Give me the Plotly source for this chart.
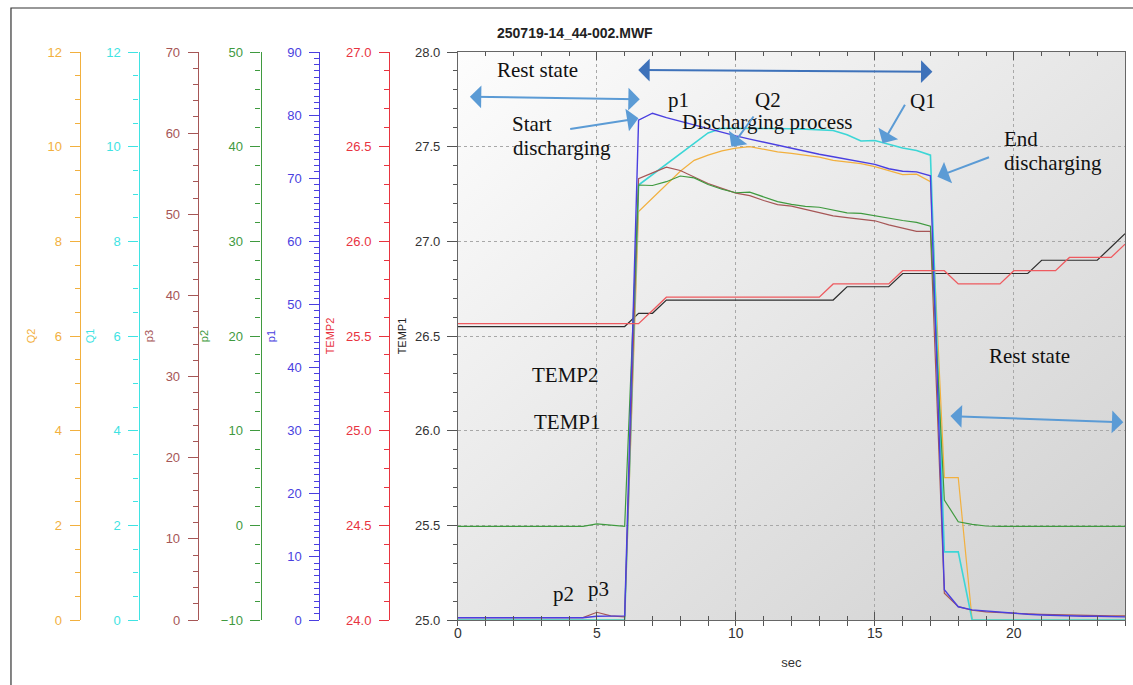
import base64
import plotly.graph_objects as go

# ---------------- data (sampled every 0.5 s) ----------------
time_s = [0.0, 0.5, 1.0, 1.5, 2.0, 2.5, 3.0, 3.5, 4.0, 4.5, 5.0, 5.5, 6.0, 6.5, 7.0, 7.5,
          8.0, 8.5, 9.0, 9.5, 10.0, 10.5, 11.0, 11.5, 12.0, 12.5, 13.0, 13.5, 14.0, 14.5,
          15.0, 15.5, 16.0, 16.5, 17.0, 17.5, 18.0, 18.5, 19.0, 19.5, 20.0, 20.5, 21.0,
          21.5, 22.0, 22.5, 23.0, 23.5, 24.0]

temp1 = [26.55, 26.55, 26.55, 26.55, 26.55, 26.55, 26.55, 26.55, 26.55, 26.55, 26.55, 26.55, 26.55,
         26.62, 26.62, 26.69,
         26.69, 26.69, 26.69, 26.69, 26.69, 26.69, 26.69, 26.69, 26.69, 26.69, 26.69, 26.69,
         26.76, 26.76, 26.76, 26.76,
         26.83, 26.83, 26.83, 26.83, 26.83, 26.83, 26.83, 26.83, 26.83, 26.83,
         26.90, 26.90, 26.90, 26.90, 26.90, 26.97, 27.04]

temp2 = [25.565, 25.565, 25.565, 25.565, 25.565, 25.565, 25.565, 25.565, 25.565, 25.565, 25.565,
         25.565, 25.565, 25.565, 25.635,
         25.705, 25.705, 25.705, 25.705, 25.705, 25.705, 25.705, 25.705, 25.705, 25.705, 25.705, 25.705,
         25.775, 25.775, 25.775, 25.775, 25.775,
         25.845, 25.845, 25.845, 25.845,
         25.775, 25.775, 25.775, 25.775,
         25.845, 25.845, 25.845, 25.845,
         25.915, 25.915, 25.915, 25.915, 25.985]

p1 = [0.35, 0.35, 0.35, 0.35, 0.35, 0.35, 0.35, 0.35, 0.35, 0.35, 0.6, 0.65, 0.65,
      79.2, 80.3, 79.6, 79.0, 78.4, 77.8, 77.2, 76.7, 76.2, 75.7, 75.2, 74.7, 74.2, 73.8,
      73.4, 73.0, 72.6, 72.2, 71.5, 71.1, 71.0, 70.4,
      4.8, 2.1, 1.6, 1.4, 1.2, 1.1, 0.9, 0.8, 0.7, 0.7, 0.6, 0.6, 0.5, 0.5]

p2 = [-0.1, -0.1, -0.1, -0.1, -0.1, -0.1, -0.1, -0.1, -0.1, -0.1, 0.15, 0.05, -0.1,
      35.95, 35.9, 36.3, 36.9, 36.7, 36.0, 35.5, 35.13, 35.2, 34.7, 34.19, 33.9, 33.7, 33.6,
      33.3, 33.0, 32.95, 32.7, 32.4, 32.2, 32.0, 31.6,
      2.68, 0.38, 0.1, -0.07, -0.1, -0.1, -0.1, -0.1, -0.1, -0.1, -0.1, -0.1, -0.1, -0.1]

p3 = [0.3, 0.3, 0.3, 0.3, 0.3, 0.3, 0.3, 0.3, 0.3, 0.3, 0.95, 0.5, 0.4,
      54.4, 55.1, 55.8, 55.4, 54.6, 53.8, 53.2, 52.6, 52.3, 51.7, 51.2, 51.0, 50.6, 50.2,
      49.8, 49.6, 49.4, 49.2, 48.7, 48.3, 47.9, 47.9,
      3.3, 1.64, 1.2, 1.0, 0.9, 0.8, 0.75, 0.7, 0.65, 0.6, 0.55, 0.5, 0.5, 0.5]

q1 = [0, 0, 0, 0, 0, 0, 0, 0, 0, 0, 0, 0, 0,
      9.19, 9.41, 9.63, 9.85, 10.07, 10.29, 10.39, 10.39, 10.39, 10.38, 10.38, 10.38, 10.37, 10.36,
      10.34, 10.25, 10.12, 10.13, 10.05, 9.97, 9.92, 9.82,
      1.44, 1.44, 0, 0, 0, 0, 0, 0, 0, 0, 0, 0, 0, 0]

q2 = [0, 0, 0, 0, 0, 0, 0, 0, 0, 0, 0, 0, 0,
      8.63, 8.92, 9.2, 9.48, 9.71, 9.82, 9.91, 9.97, 10.0, 9.94, 9.89, 9.86, 9.82, 9.78,
      9.71, 9.67, 9.64, 9.58, 9.5, 9.41, 9.42, 9.26,
      3.01, 3.01, 0, 0, 0, 0, 0, 0, 0, 0, 0, 0, 0, 0]

# axis names, ranges, ticks
axis_names = ["Q2", "Q1", "p3", "p2", "p1", "TEMP2"]
axis_ranges = [[0, 12], [0, 12], [0, 70], [-10, 50], [0, 90], [24.0, 27.0]]
axis_dticks = [2, 2, 10, 10, 10, 0.5]
axis_minor = [0.5, 0.5, 2, 2, 1, 0.1]
axis_formats = ["d", "d", "d", "d", "d", ".1f"]

# ---------------- styling ----------------
W, H = 1133, 685
C_Q2 = "#F2B03E"
C_Q1 = "#3FE3E3"
C_P3 = "#A65656"
C_P2 = "#3F9A3F"
C_P1 = "#4A3FE0"
C_T2 = "#E8343F"
C_T1 = "#2E2E2E"
axis_colors = [C_Q2, C_Q1, C_P3, C_P2, C_P1, C_T2]
axis_px = [76, 135, 194.5, 257.5, 316.5, 386.5]

X0_PX, X1_PX = 455.5, 1125
Y0_PX, Y1_PX = 52, 620
dom = [X0_PX / W, X1_PX / W]


def px2x(px):
    return (px - X0_PX) / (X1_PX - X0_PX) * 24


def py2y(py):
    return 28 - (py - Y0_PX) / (Y1_PX - Y0_PX) * 3


fig = go.Figure()

# traces
fig.add_trace(go.Scatter(x=time_s, y=temp1, name="TEMP1", mode="lines",
                         line=dict(color=C_T1, width=1.2), xaxis="x", yaxis="y"))
fig.add_trace(go.Scatter(x=time_s, y=temp2, name="TEMP2", mode="lines",
                         line=dict(color="#EE5A5F", width=1.3), xaxis="x", yaxis="y7"))
fig.add_trace(go.Scatter(x=time_s, y=p3, name="p3", mode="lines",
                         line=dict(color=C_P3, width=1.2), xaxis="x", yaxis="y4"))
fig.add_trace(go.Scatter(x=time_s, y=p2, name="p2", mode="lines",
                         line=dict(color=C_P2, width=1.2), xaxis="x", yaxis="y5"))
fig.add_trace(go.Scatter(x=time_s, y=q2, name="Q2", mode="lines",
                         line=dict(color=C_Q2, width=1.2), xaxis="x", yaxis="y2"))
fig.add_trace(go.Scatter(x=time_s, y=p1, name="p1", mode="lines",
                         line=dict(color=C_P1, width=1.4), xaxis="x", yaxis="y6"))
fig.add_trace(go.Scatter(x=time_s, y=q1, name="Q1", mode="lines",
                         line=dict(color="#3CD6D6", width=1.6), xaxis="x", yaxis="y3"))
# carrier for the bottom outside tick axis
fig.add_trace(go.Scatter(x=[0, 24], y=[25, 25], mode="lines", line=dict(width=0),
                         opacity=0, hoverinfo="skip", showlegend=False, xaxis="x2", yaxis="y"))

tickfont_base = dict(family="Liberation Sans, Arial, sans-serif", size=13)

layout = dict(
    width=W, height=H,
    margin=dict(l=0, r=0, t=Y0_PX, b=H - Y1_PX),
    paper_bgcolor="white",
    plot_bgcolor="rgba(0,0,0,0)",
    showlegend=False,
    font=dict(family="Liberation Sans, Arial, sans-serif", color="#333"),
    xaxis=dict(
        domain=dom, range=[0, 24], dtick=5, tick0=0,
        ticks="inside", ticklen=8, tickwidth=1, tickcolor="#555",
        minor=dict(dtick=1, ticks="inside", ticklen=4, tickcolor="#555", showgrid=False),
        showline=True, linecolor="#666", linewidth=1, mirror="ticks",
        showgrid=True, gridcolor="#a8a8a8", griddash="dot", gridwidth=1,
        zeroline=False,
        tickfont=dict(family="Liberation Sans, Arial, sans-serif", size=14, color="#333"),
        title=dict(text="sec", font=dict(size=13, color="#333"), standoff=18),
    ),
    xaxis2=dict(
        overlaying="x", anchor="y", side="bottom", range=[0, 24], dtick=5, tick0=0,
        ticks="outside", ticklen=5, tickcolor="#555", showticklabels=False,
        minor=dict(dtick=1, ticks="outside", ticklen=5, tickcolor="#555"),
        showgrid=False, showline=False, zeroline=False,
    ),
    yaxis=dict(
        domain=[0, 1], range=[25.0, 28.0], dtick=0.5, tick0=25, tickformat=".1f",
        ticks="outside", ticklen=10, tickcolor="#555",
        minor=dict(dtick=0.1, ticks="outside", ticklen=4, tickcolor="#555", showgrid=False),
        showline=True, linecolor="#666", linewidth=1, mirror=True,
        showgrid=True, gridcolor="#a8a8a8", griddash="dot", gridwidth=1,
        zeroline=False, ticklabelstandoff=4,
        tickfont=dict(tickfont_base, color="#333"),
        title=dict(text="TEMP1", font=dict(size=11, color="#222"), standoff=6),
    ),
)

for i, (nm, rg, dt, mn, fmt, col, px) in enumerate(
        zip(axis_names, axis_ranges, axis_dticks, axis_minor, axis_formats, axis_colors, axis_px)):
    key = "yaxis%d" % (i + 2)
    layout[key] = dict(
        overlaying="y", anchor="free", position=px / W, side="left",
        range=rg, dtick=dt, tick0=rg[0], tickformat=fmt,
        ticks="outside", ticklen=10, tickcolor=col, tickwidth=1,
        minor=dict(dtick=mn, ticks="outside", ticklen=5, tickcolor=col, showgrid=False),
        showline=True, linecolor=col, linewidth=1.2,
        showgrid=False, zeroline=False, ticklabelstandoff=5,
        tickfont=dict(tickfont_base, color=col),
        title=dict(text=nm, font=dict(size=11, color=col), standoff=8),
    )

fig.update_layout(**layout)

# gradient plot background
svg = ('<svg xmlns="http://www.w3.org/2000/svg" width="200" height="200" viewBox="0 0 200 200" '
       'preserveAspectRatio="none"><defs><linearGradient id="g" x1="0" y1="0" x2="1" y2="1">'
       '<stop offset="0" stop-color="#fdfdfd"/><stop offset="0.5" stop-color="#e6e6e6"/>'
       '<stop offset="1" stop-color="#d0d0d0"/></linearGradient></defs>'
       '<rect width="200" height="200" fill="url(#g)"/></svg>')
src = "data:image/svg+xml;base64," + base64.b64encode(svg.encode()).decode()
fig.add_layout_image(dict(source=src, xref="x", yref="y", x=0, y=28, sizex=24, sizey=3,
                          sizing="stretch", xanchor="left", yanchor="top", layer="below"))

# outer frame
fig.add_shape(type="rect", xref="paper", yref="paper",
              x0=7 / W, x1=1.05, y0=-0.3, y1=1 + (Y0_PX - 8) / (Y1_PX - Y0_PX),
              line=dict(color="#333", width=1.2), fillcolor="rgba(0,0,0,0)", layer="above")

# title
fig.add_annotation(text="<b>250719-14_44-002.MWF</b>", xref="paper", yref="paper",
                   x=493 / W, y=(Y1_PX - 33) / (Y1_PX - Y0_PX), xanchor="left", yanchor="middle",
                   showarrow=False, font=dict(family="Liberation Sans, Arial, sans-serif",
                                              size=14, color="#222"))

# text labels (Times-like serif)
serif = dict(family="Liberation Serif, Times New Roman, serif", size=21, color="#111")
labels = [
    ("Rest state", 535, 70), ("p1", 677, 100), ("Q2", 767, 100),
    ("Discharging process", 766, 122), ("Start", 530, 124), ("discharging", 560, 148),
    ("Q1", 922, 101), ("End", 1021, 139), ("discharging", 1053, 163),
    ("TEMP2", 563, 375), ("TEMP1", 565, 422), ("Rest state", 1029, 356),
    ("p2", 561, 594), ("p3", 597, 589),
]
for txt, cx, cy in labels:
    fig.add_annotation(text=txt, x=px2x(cx), y=py2y(cy), xref="x", yref="y",
                       showarrow=False, font=serif, xanchor="center", yanchor="middle")

# arrows: (head_px, head_py, tail_px, tail_py, double, color)
ARR = "#5B9BD5"
ARR2 = "#3E72BA"
arrows = [
    (638, 99.3, 466, 96.7, True, ARR),
    (931.7, 71.7, 635, 70, True, ARR2),
    (636.7, 118.3, 566.7, 129.3, False, ARR),
    (730, 146.7, 753.3, 115, False, ARR),
    (881.7, 143.3, 905, 103.3, False, ARR),
    (936.7, 176.7, 990, 156.7, False, ARR),
    (1123.3, 422.3, 948.3, 416, True, ARR),
]
for hx, hy, tx, ty, dbl, col in arrows:
    fig.add_annotation(
        x=px2x(hx), y=py2y(hy), ax=px2x(tx), ay=py2y(ty),
        xref="x", yref="y", axref="x", ayref="y", text="",
        showarrow=True, arrowhead=1, arrowsize=1.9, arrowwidth=2, arrowcolor=col,
        arrowside="end+start" if dbl else "end",
        startarrowhead=1, startarrowsize=1.9, standoff=0, startstandoff=0,
    )

fig.write_html("out.html", config={"displayModeBar": False},
               post_script="document.body.style.margin='0';document.body.style.overflow='hidden';")
